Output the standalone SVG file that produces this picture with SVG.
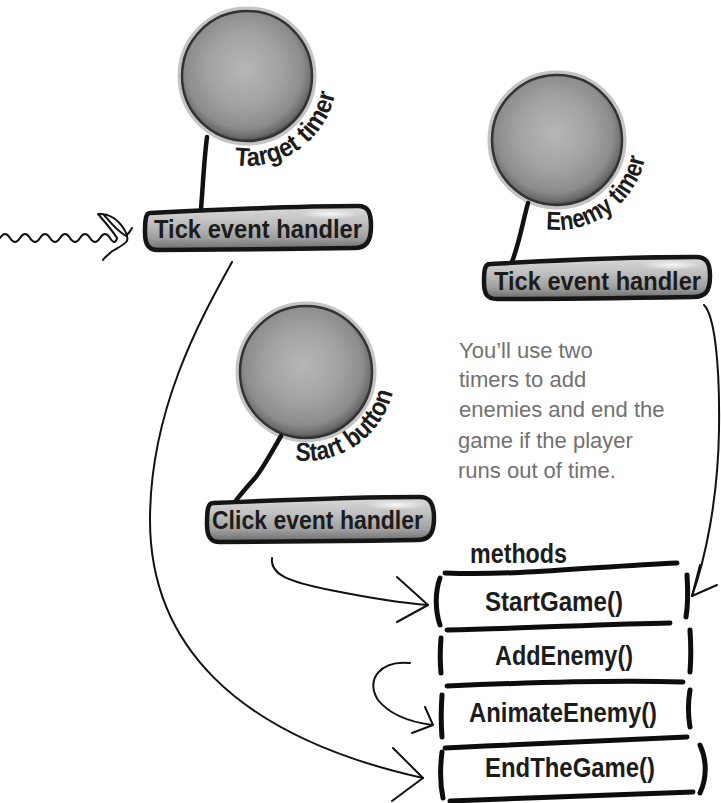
<svg xmlns="http://www.w3.org/2000/svg" width="721" height="803" viewBox="0 0 721 803">
  <defs>
    <radialGradient id="ballFill" cx="48%" cy="45%" r="55%">
      <stop offset="0" stop-color="#b6b6b6"/>
      <stop offset="0.5" stop-color="#a3a3a3"/>
      <stop offset="0.82" stop-color="#8c8c8c"/>
      <stop offset="0.95" stop-color="#6a6a6a"/>
      <stop offset="1" stop-color="#444444"/>
    </radialGradient>
    <linearGradient id="btnFill" x1="0" y1="0" x2="0" y2="1">
      <stop offset="0" stop-color="#dadada"/>
      <stop offset="0.35" stop-color="#c2c2c2"/>
      <stop offset="0.72" stop-color="#a0a0a0"/>
      <stop offset="1" stop-color="#6a6a6a"/>
    </linearGradient>
    <radialGradient id="shine" cx="50%" cy="50%" r="50%">
      <stop offset="0" stop-color="#ffffff" stop-opacity="0.85"/>
      <stop offset="1" stop-color="#ffffff" stop-opacity="0"/>
    </radialGradient>
  </defs>
  <style>
    .halo { fill: none; stroke: #c4c4c4; stroke-width: 5; }
    .ball { fill: url(#ballFill); stroke: #333; stroke-width: 2.5; }
    .stem { fill: none; stroke: #111; stroke-width: 4.5; stroke-linecap: round; }
    .btn { fill: url(#btnFill); stroke: #151515; stroke-width: 4.5; stroke-linejoin: round; }
    .btnText { font-family: "Liberation Sans", Arial, sans-serif; font-weight: bold; font-size: 26px; fill: #1c1c1c; }
    .arcText { font-family: "Liberation Sans", Arial, sans-serif; font-weight: bold; font-size: 26px; fill: #1c1c1c; }
    .note { font-family: "Liberation Sans", Arial, sans-serif; font-size: 22px; fill: #717171; }
    .method { font-family: "Liberation Sans", Arial, sans-serif; font-weight: bold; font-size: 27px; fill: #1c1c1c; }
    .ink { fill: none; stroke: #0d0d0d; stroke-width: 5; stroke-linecap: round; }
    .wire { fill: none; stroke: #111; stroke-width: 2; stroke-linecap: round; stroke-linejoin: round; }
  </style>

  <!-- label arcs around the balls -->
  <path id="arcTarget" d="M 234.5 165.1 A 90 90 0 0 0 333.9 52.7" fill="none"/>
  <path id="arcEnemy" d="M 546.0 229.3 A 90 90 0 0 0 643.9 116.7" fill="none"/>
  <path id="arcStart" d="M 295.2 460.3 A 89 89 0 0 0 392.0 349.0" fill="none"/>

  <!-- connectors -->
  <g id="connectors">
    <!-- wavy lead-in on the left -->
    <path class="wire" stroke-width="1.6" d="M0,238 q5,-8 10,0 t10,0 t10,0 t10,0 t10,0 t10,0 t10,0 t10,0 t10,0 t10,0 t10,0 t7,0"/>
    <path class="wire" stroke-width="1.6" d="M117 238 C 112 230, 105 222, 98 214 C 110 213, 119 221, 124 229 C 127 234, 128 238, 127 241 C 123 246, 115 249, 111 252 C 107 256, 104 258, 103 260"/>
    <path class="wire" stroke-width="1.6" d="M104 215 C 110 222, 117 231, 126 236 C 129 233, 131 230, 132 228"/>

    <!-- Target tick handler to EndTheGame -->
    <path class="wire" d="M 232 262 C 200 320, 150 410, 150 520 C 150 640, 230 735, 423 778"/>
    <path class="wire" d="M 393 748 L 423 778 L 392 801"/>

    <!-- Click handler to StartGame -->
    <path class="wire" d="M 272 558 C 270 575, 290 582, 330 590 C 370 598, 400 603, 428 605"/>
    <path class="wire" d="M 397 577 L 428 605 L 397 622"/>

    <!-- Enemy tick handler to StartGame -->
    <path class="wire" d="M 704 305 C 714 315, 720 360, 719 430 C 718 500, 705 560, 692 596"/>
    <path class="wire" d="M 700 565 L 692 596 L 717 585"/>

    <!-- AddEnemy to AnimateEnemy -->
    <path class="wire" d="M 410 663 C 380 660, 365 680, 378 700 C 390 715, 410 722, 432 725"/>
    <path class="wire" d="M 425 707 L 433 725 L 412 733"/>
  </g>

  <!-- Target timer -->
  <g id="target-timer">
    <circle class="halo" cx="247" cy="76" r="67"/>
    <circle class="ball" cx="247" cy="76" r="65"/>
    <text class="arcText"><textPath href="#arcTarget" textLength="136" lengthAdjust="spacingAndGlyphs">Target timer</textPath></text>
    <path class="stem" d="M 207 137 C 204 160, 203 185, 201 209"/>
  </g>

  <g id="target-tick">
    <path class="btn" d="M 150 213 C 210 210, 300 206, 358 206 C 368 206, 371 212, 371 226 C 371 242, 366 248, 354 248 C 290 249, 210 250, 158 250 C 148 250, 145 244, 145 232 C 145 219, 146 213, 150 213 Z"/>
    <ellipse cx="330" cy="214" rx="30" ry="5" fill="url(#shine)"/>
    <text class="btnText" x="154" y="238" textLength="208" lengthAdjust="spacingAndGlyphs">Tick event handler</text>
  </g>

  <!-- Enemy timer -->
  <g id="enemy-timer">
    <circle class="halo" cx="557" cy="140" r="67"/>
    <circle class="ball" cx="557" cy="140" r="65"/>
    <text class="arcText"><textPath href="#arcEnemy" textLength="134" lengthAdjust="spacingAndGlyphs">Enemy timer</textPath></text>
    <path class="stem" d="M 528 203 C 522 225, 520 240, 512 262"/>
  </g>

  <g id="enemy-tick">
    <path class="btn" d="M 490 264 C 560 260, 640 257, 696 257 C 706 257, 710 262, 710 276 C 710 292, 705 297, 693 297 C 630 298, 560 299, 497 299 C 487 299, 484 294, 484 282 C 484 269, 485 264, 490 264 Z"/>
    <ellipse cx="672" cy="265" rx="30" ry="5" fill="url(#shine)"/>
    <text class="btnText" x="494" y="290" textLength="207" lengthAdjust="spacingAndGlyphs">Tick event handler</text>
  </g>

  <!-- Start button -->
  <g id="start-button">
    <circle class="halo" cx="306" cy="372" r="68"/>
    <circle class="ball" cx="306" cy="372" r="66"/>
    <text class="arcText"><textPath href="#arcStart" textLength="130" lengthAdjust="spacingAndGlyphs">Start button</textPath></text>
    <path class="stem" d="M 281 436 C 270 455, 262 470, 255 478 C 246 488, 240 495, 234 503"/>
  </g>

  <g id="click-handler">
    <path class="btn" d="M 213 503 C 280 500, 360 497, 420 497 C 430 497, 434 504, 434 518 C 434 534, 429 540, 417 540 C 350 541, 280 542, 220 542 C 210 542, 207 536, 207 524 C 207 509, 208 503, 213 503 Z"/>
    <ellipse cx="396" cy="505" rx="30" ry="5" fill="url(#shine)"/>
    <text class="btnText" x="212" y="529" textLength="211" lengthAdjust="spacingAndGlyphs">Click event handler</text>
  </g>

  <!-- side note -->
  <g id="note">
    <text class="note" x="459" y="358">You’ll use two</text>
    <text class="note" x="459" y="387">timers to add</text>
    <text class="note" x="459" y="417">enemies and end the</text>
    <text class="note" x="458" y="448">game if the player</text>
    <text class="note" x="458" y="478">runs out of time.</text>
  </g>

  <!-- methods list -->
  <g id="methods">
    <text class="method" x="470" y="563" font-size="26" textLength="97" lengthAdjust="spacingAndGlyphs">methods</text>
    <path class="ink" d="M 445 573 C 520 576, 600 566, 677 563"/>
    <path class="ink" d="M 447 630 C 530 628, 610 624, 670 623"/>
    <path class="ink" d="M 447 686 C 540 682, 620 680, 683 682"/>
    <path class="ink" d="M 445 748 C 530 744, 620 740, 687 737"/>
    <path class="ink" d="M 450 801 C 540 797, 620 794, 693 792"/>
  </g>

  <g id="start-game">
    <path class="ink" d="M 440 578 C 435 592, 435 610, 440 625"/>
    <path class="ink" d="M 687 575 C 688 590, 688 605, 686 617"/>
    <text class="method" x="485" y="611" textLength="138" lengthAdjust="spacingAndGlyphs">StartGame()</text>
  </g>

  <g id="add-enemy">
    <path class="ink" d="M 441 638 C 440 650, 440 662, 441 673"/>
    <path class="ink" d="M 690 630 C 691 645, 691 660, 690 672"/>
    <text class="method" x="495" y="665" textLength="138" lengthAdjust="spacingAndGlyphs">AddEnemy()</text>
  </g>

  <g id="animate-enemy">
    <path class="ink" d="M 442 695 C 441 710, 441 725, 442 737"/>
    <path class="ink" d="M 690 690 C 688 702, 688 715, 690 727"/>
    <text class="method" x="469" y="722" textLength="188" lengthAdjust="spacingAndGlyphs">AnimateEnemy()</text>
  </g>

  <g id="end-the-game">
    <path class="ink" d="M 442 752 C 440 768, 440 784, 443 798"/>
    <path class="ink" d="M 700 745 C 707 760, 707 778, 700 793"/>
    <text class="method" x="485" y="777" textLength="170" lengthAdjust="spacingAndGlyphs">EndTheGame()</text>
  </g>
</svg>
